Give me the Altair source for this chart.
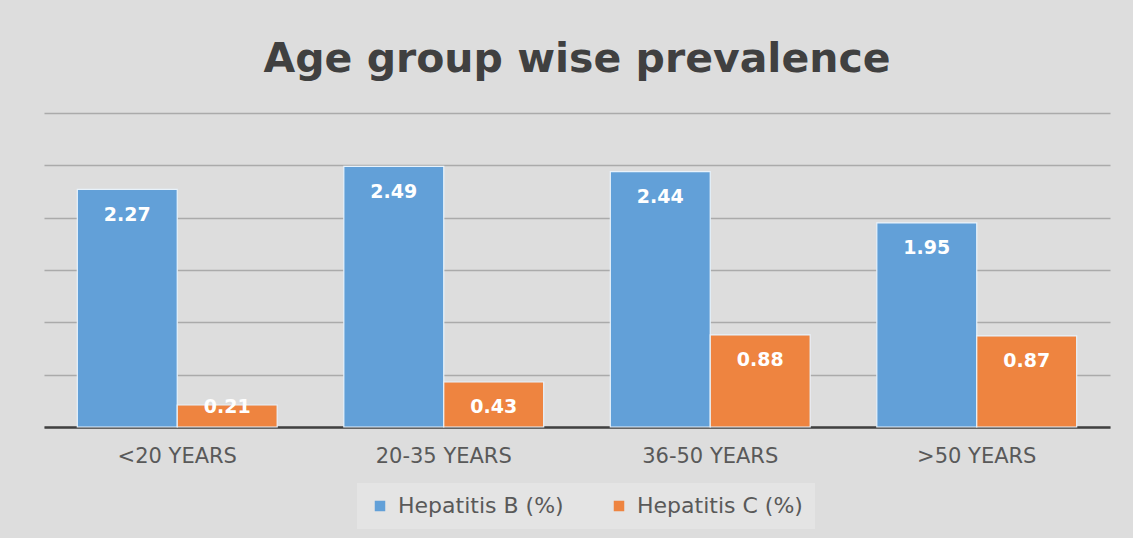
import altair as alt
import pandas as pd

groups = ["<20 YEARS", "20-35 YEARS", "36-50 YEARS", ">50 YEARS"]
hep_b = [2.27, 2.49, 2.44, 1.95]
hep_c = [0.21, 0.43, 0.88, 0.87]
series = ["Hepatitis B (%)", "Hepatitis C (%)"]
colors = ["#62a0d8", "#ee8440"]

rows = []
for g, b, c in zip(groups, hep_b, hep_c):
    rows.append({"group": g, "series": series[0], "value": b, "label": f"{b:.2f}"})
    rows.append({"group": g, "series": series[1], "value": c, "label": f"{c:.2f}"})
df = pd.DataFrame(rows)

FONT = "DejaVu Sans"

base = alt.Chart(df).encode(
    x=alt.X("group:N", sort=groups,
            scale=alt.Scale(paddingInner=0.25, paddingOuter=0.125),
            axis=alt.Axis(title=None, labelAngle=0, labelFontSize=21, labelColor="#595959",
                          labelFont=FONT, labelPadding=18, ticks=False,
                          domainColor="#404040", domainWidth=2.5)),
    xOffset=alt.XOffset("series:N", sort=series, scale=alt.Scale(paddingInner=0, paddingOuter=0)),
)

bars = base.mark_bar(stroke="#e8f2fb", strokeWidth=1.2).encode(
    y=alt.Y("value:Q", scale=alt.Scale(domain=[0, 3]),
            axis=alt.Axis(title=None, labels=False, ticks=False, domain=False,
                          values=[0, 0.5, 1, 1.5, 2, 2.5, 3],
                          gridColor="#aaaaaa", gridWidth=1.5)),
    color=alt.Color("series:N", sort=series,
                    scale=alt.Scale(domain=series, range=colors),
                    legend=alt.Legend(title=None, orient="none", direction="horizontal",
                                      legendX=313, legendY=370,
                                      symbolType="square", symbolSize=110,
                                      symbolStrokeWidth=0,
                                      labelFontSize=22, labelFont=FONT, labelColor="#595959",
                                      labelLimit=400,
                                      labelOffset=7, columnPadding=44,
                                      fillColor="#e4e4e4", padding=12)),
)

labels = base.mark_text(color="white", fontSize=19, fontWeight="bold", font=FONT,
                        baseline="middle").transform_calculate(
    pos="max(datum.value - 0.24, 0.19)"
).encode(
    y=alt.Y("pos:Q", scale=alt.Scale(domain=[0, 3])),
    text="label:N",
)

chart = alt.layer(bars, labels).properties(
    width=1066, height=314,
    title=alt.TitleParams("Age group wise prevalence", font=FONT, fontSize=41,
                          fontWeight="bold", color="#404040", anchor="middle",
                          baseline="alphabetic", offset=0),
    autosize=alt.AutoSizeParams(type="none"),
    padding={"left": 44, "top": 113, "right": 23, "bottom": 111},
    background="#dddddd",
).configure_view(stroke=None)

chart.save("out.html", embed_options={"renderer": "svg", "actions": False})
